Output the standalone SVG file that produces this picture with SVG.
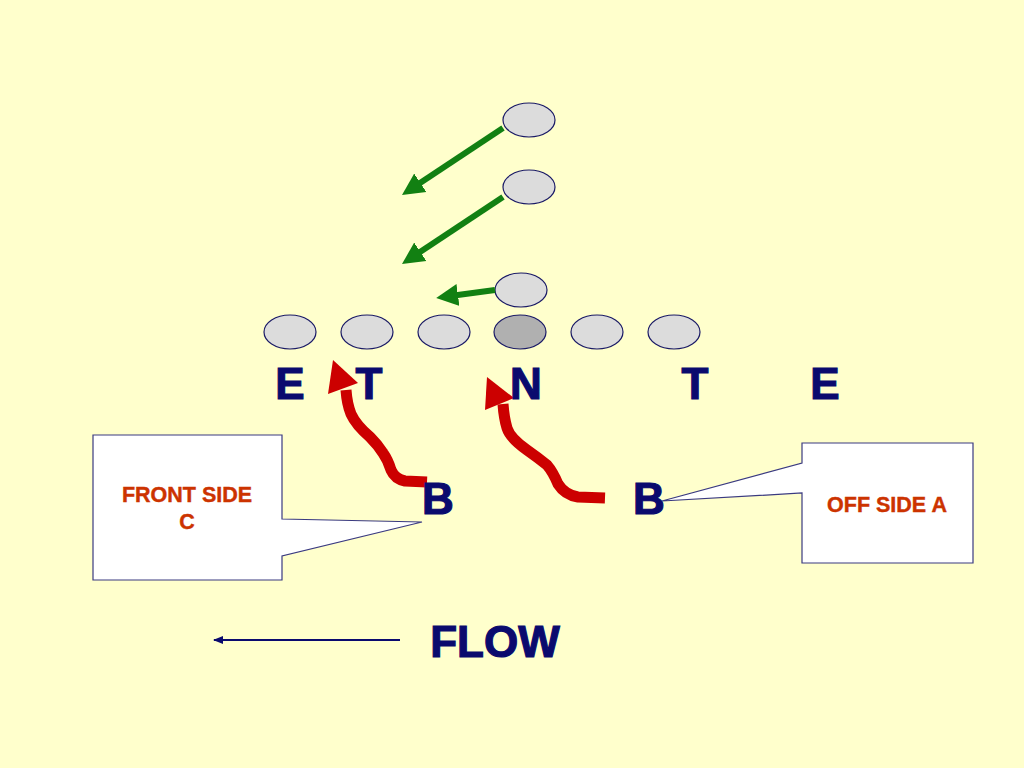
<svg xmlns="http://www.w3.org/2000/svg" width="1024" height="768" viewBox="0 0 1024 768">
<defs>
<style>
.pl{fill:#dcdcdc;stroke:#1a1a66;stroke-width:1.2}
.lbl{font-family:"Liberation Sans",Arial,sans-serif;font-weight:bold;fill:#0a0a6e;stroke:#0a0a6e;stroke-width:1.2;text-anchor:middle;font-size:44px}
.ct{font-family:"Liberation Sans",Arial,sans-serif;font-weight:bold;fill:#cc3300;stroke:#cc3300;stroke-width:0.4;font-size:21.5px;text-anchor:middle}
.co{fill:#ffffff;stroke:#3a3a80;stroke-width:1.2}
.g{stroke:#128012;stroke-width:6;fill:none}
.r{stroke:#cc0000;stroke-width:11;fill:none;stroke-linecap:butt;stroke-linejoin:round}
</style>
<marker id="ga" markerUnits="userSpaceOnUse" markerWidth="24" markerHeight="24" refX="4" refY="12" orient="auto"><path d="M0,1 L22,12 L0,23 Z" fill="#128012"/></marker>
<marker id="fa" markerUnits="userSpaceOnUse" markerWidth="10" markerHeight="8" refX="9" refY="4" orient="auto"><path d="M0,0 L10,4 L0,8 Z" fill="#0a0a6e"/></marker>
</defs>
<rect width="1024" height="768" fill="#ffffcc"/>
<g id="players">
<g id="lb1"><ellipse class="pl" cx="529" cy="120" rx="26" ry="17"/></g>
<g id="lb2"><ellipse class="pl" cx="529" cy="187" rx="26" ry="17"/></g>
<g id="lb3"><ellipse class="pl" cx="521" cy="290" rx="26" ry="17"/></g>
<g id="ol1"><ellipse class="pl" cx="290" cy="332" rx="26" ry="17"/></g>
<g id="ol2"><ellipse class="pl" cx="367" cy="332" rx="26" ry="17"/></g>
<g id="ol3"><ellipse class="pl" cx="444" cy="332" rx="26" ry="17"/></g>
<g id="ol4"><ellipse class="pl" cx="520" cy="332" rx="26" ry="17" style="fill:#b0b0b0"/></g>
<g id="ol5"><ellipse class="pl" cx="597" cy="332" rx="26" ry="17"/></g>
<g id="ol6"><ellipse class="pl" cx="674" cy="332" rx="26" ry="17"/></g>
</g>
<g id="connectors">
<line class="g" x1="503" y1="128" x2="417" y2="185" marker-end="url(#ga)"/>
<line class="g" x1="503" y1="197" x2="417" y2="254" marker-end="url(#ga)"/>
<line class="g" x1="495" y1="290" x2="454" y2="295.5" marker-end="url(#ga)"/>
<path class="r" d="M427,482 L405,481 Q395,479 391,470 Q388,460 383,453 Q378,445 370,437 Q356,425 351,414 Q347,404 346,390"/>
<polygon points="333,360 328,394 358,383" fill="#cc0000"/>
<path class="r" d="M605,498 L578,497 Q565,495 558,484 Q553,472 547,465 Q537,457 527,450 Q510,438 507,428 Q504,418 503,404"/>
<polygon points="487,377 485,410 514,398" fill="#cc0000"/>
<line x1="400" y1="640" x2="214" y2="640" stroke="#0a0a6e" stroke-width="2" marker-end="url(#fa)"/>
</g>
<g id="labels">
<text class="lbl" x="290" y="399">E</text>
<text class="lbl" x="369" y="399">T</text>
<text class="lbl" x="526" y="399">N</text>
<text class="lbl" x="695" y="399">T</text>
<text class="lbl" x="825" y="399">E</text>
<text class="lbl" x="438" y="514">B</text>
<text class="lbl" x="649" y="514">B</text>
<text class="lbl" x="495" y="657">FLOW</text>
</g>
<g id="callout-front">
<path class="co" d="M93,435 L282,435 L282,519 L422,522 L282,556 L282,580 L93,580 Z"/>
<text class="ct" x="187" y="502">FRONT SIDE</text>
<text class="ct" x="187" y="529">C</text>
</g>
<g id="callout-off">
<path class="co" d="M802,443 L973,443 L973,563 L802,563 L802,493 L662,501 L802,463 Z"/>
<text class="ct" x="887" y="512">OFF SIDE A</text>
</g>
</svg>
